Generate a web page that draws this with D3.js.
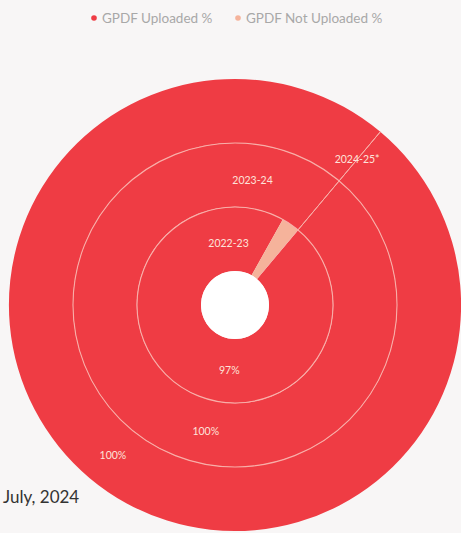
<!DOCTYPE html>
<html><head><meta charset="utf-8">
<script src="https://cdn.jsdelivr.net/npm/d3@7"></script>
<style>
html,body{margin:0;padding:0;background:#f8f6f6;}
svg{display:block;}
</style></head>
<body>
<svg id="chart" width="461" height="533"></svg>
<script>
// ---- data ----
const years = ["2022-23", "2023-24", "2024-25*"];
const uploaded = [97, 100, 100];
const notUploaded = [3, 0, 0];
const seriesNames = ["GPDF Uploaded %", "GPDF Not Uploaded %"];
const footnote = "July, 2024";

// ---- layout ----
const W = 461, H = 533;
const cx = 235, cy = 305;
const innerR = 34, outerR = 226;
const startDeg = 40;
const colors = ["#ef3c44", "#f5b39b"];
const lineColor = "#f8aea8";
const textColor = "#fde3da";
const catLabelDeg = [-6, 8, 40];
const valLabelDeg = [185, 193, 219];

const svg = d3.select("#chart");
const g = svg.append("g").attr("transform", `translate(${cx},${cy})`);

const r = d3.scaleBand().domain(years).range([innerR, outerR]).paddingInner(0).paddingOuter(0);
const color = d3.scaleOrdinal().domain(seriesNames).range(colors);
const toRad = d => d * Math.PI / 180;

const pie = d3.pie().sort(null).value(d => d.value)
  .startAngle(toRad(startDeg)).endAngle(toRad(startDeg) + 2 * Math.PI);

years.forEach((y, i) => {
  const rows = [
    {name: seriesNames[0], value: uploaded[i]},
    {name: seriesNames[1], value: notUploaded[i]}
  ];
  const arc = d3.arc().innerRadius(r(y)).outerRadius(r(y) + r.bandwidth());
  const arcs = pie(rows);
  g.append("g").selectAll("path").data(arcs).join("path")
    .attr("d", arc)
    .attr("fill", d => color(d.data.name))
    .attr("stroke", "none");
  g.append("g").selectAll("line").data(arcs.filter(d => d.index === 1)).join("line")
    .attr("x1", d => Math.sin(d.startAngle) * (r(y) + (d.value > 0 ? r.bandwidth() : 0)))
    .attr("y1", d => -Math.cos(d.startAngle) * (r(y) + (d.value > 0 ? r.bandwidth() : 0)))
    .attr("x2", d => Math.sin(d.startAngle) * (r(y) + r.bandwidth()))
    .attr("y2", d => -Math.cos(d.startAngle) * (r(y) + r.bandwidth()))
    .attr("stroke", lineColor).attr("stroke-width", 1);
  g.append("g").selectAll("line").data(arcs.filter(d => d.index === 1)).join("line")
    .attr("x1", d => Math.sin(d.endAngle) * r(y))
    .attr("y1", d => -Math.cos(d.endAngle) * r(y))
    .attr("x2", d => Math.sin(d.endAngle) * (r(y) + r.bandwidth()))
    .attr("y2", d => -Math.cos(d.endAngle) * (r(y) + r.bandwidth()))
    .attr("stroke", lineColor).attr("stroke-width", 1);
});

g.selectAll("circle.sep").data(years.slice(1)).join("circle")
  .attr("class", "sep").attr("r", d => r(d))
  .attr("fill", "none").attr("stroke", lineColor).attr("stroke-width", 1.1);

g.append("circle").attr("r", innerR).attr("fill", "#ffffff");

const lab = g.append("g").attr("font-family", "Lato, 'Open Sans', sans-serif")
  .attr("font-size", 10.5).attr("fill", textColor).attr("text-anchor", "middle");
years.forEach((y, i) => {
  const rm = r(y) + r.bandwidth() / 2;
  const a1 = toRad(catLabelDeg[i]);
  lab.append("text").attr("x", Math.sin(a1) * (rm - 4)).attr("y", -Math.cos(a1) * (rm - 4))
    .attr("dy", "0.35em").text(y);
  const a2 = toRad(valLabelDeg[i]);
  lab.append("text").attr("x", Math.sin(a2) * rm).attr("y", -Math.cos(a2) * rm)
    .attr("dy", "0.35em").text(uploaded[i] + "%");
});

const legend = svg.append("g").attr("font-family", "Lato, 'Open Sans', sans-serif")
  .attr("font-size", 13.5).attr("fill", "#a8a8a8");
const legX = [94, 238];
seriesNames.forEach((n, i) => {
  legend.append("circle").attr("cx", legX[i]).attr("cy", 18).attr("r", 2.8).attr("fill", color(n));
  legend.append("text").attr("x", legX[i] + 8).attr("y", 18).attr("dy", "0.35em").text(n);
});

svg.append("text").attr("x", 3).attr("y", 503)
  .attr("font-family", "Lato, 'Open Sans', sans-serif").attr("font-size", 17)
  .attr("fill", "#333").text(footnote);
</script>
</body></html>
